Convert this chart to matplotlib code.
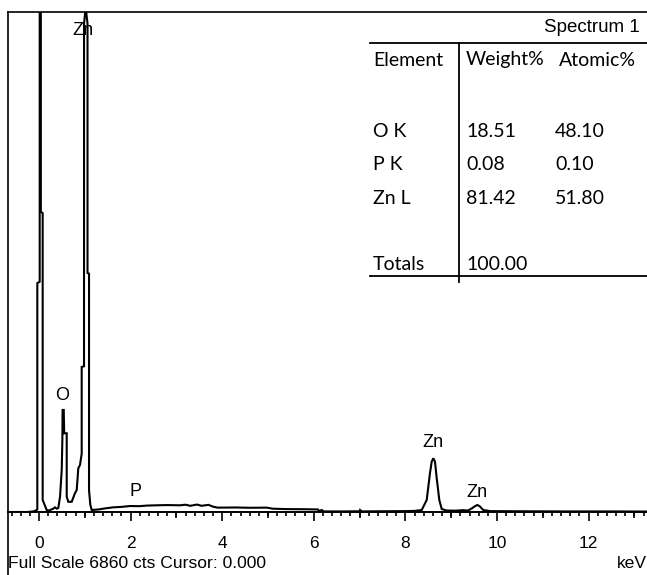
import matplotlib
matplotlib.use("Agg")
import matplotlib.pyplot as plt
from matplotlib.lines import Line2D

# ---------------- data ----------------
energy_kev = [-0.68, -0.25, -0.12, -0.05,
              -0.037, -0.037, 0.015, 0.015, 0.04, 0.04, 0.08, 0.08, 0.168,
              0.22, 0.277, 0.31, 0.349, 0.39, 0.421,
              0.459, 0.496, 0.51, 0.515, 0.54, 0.55, 0.605, 0.605, 0.64, 0.714,
              0.786, 0.823, 0.858, 0.895, 0.932, 0.932, 0.983, 0.983, 1.02,
              1.059, 1.059, 1.092, 1.092, 1.12, 1.151,
              1.3, 1.45, 1.62, 1.8, 1.99, 2.2, 2.35, 2.57, 2.8, 3.08, 3.2, 3.3,
              3.45, 3.55, 3.7, 3.8, 3.9, 4.3, 4.6, 4.97, 5.11, 5.4, 5.8, 6.09,
              6.12, 6.17, 6.22, 6.6, 7.0, 7.01, 7.05, 7.5, 8.0, 8.2,
              8.356, 8.465, 8.537, 8.574, 8.609, 8.646, 8.683, 8.74, 8.793,
              8.9, 9.1, 9.25, 9.37, 9.45, 9.52, 9.57, 9.62, 9.70, 9.85,
              10.5, 11.5, 12.5, 13.3]
counts = [0, 0, 8, 27,
          40, 3140, 3160, 9500, 9500, 4120, 4100, 165, 27,
          20, 37, 45, 64, 45, 55,
          210, 575, 1000, 1400, 1400, 1080, 1080, 210, 140, 140,
          260, 300, 600, 645, 800, 1990, 2000, 6700, 6920,
          6700, 3280, 3270, 300, 100, 27,
          35, 50, 64, 70, 82, 80, 88, 92, 95, 92, 100, 85,
          102, 85, 98, 73, 60, 62, 58, 60, 45, 40, 38, 35,
          10, 28, 8, 8, 10, 28, 8, 10, 12, 15,
          27, 165, 535, 690, 737, 690, 466, 165, 41,
          20, 18, 25, 20, 50, 80, 96, 80, 27, 12,
          10, 8, 8, 6]

full_scale = 6860
x_ticks = [0, 2, 4, 6, 8, 10, 12]

peak_labels = ["Zn", "O", "P", "Zn", "Zn"]
peak_label_kev = [0.96, 0.50, 2.10, 8.60, 9.56]
peak_label_cts = [6613, 1605, 288, 947, 274]

elements = ["O K", "P K", "Zn L"]
weight_pct = [18.51, 0.08, 81.42]
atomic_pct = [48.10, 0.10, 51.80]
total_weight = 100.00

# ---------------- figure ----------------
W, H = 647, 575
fig = plt.figure(figsize=(W / 100, H / 100), dpi=100)

def fx(px):
    return px / W

def fy(py):
    return 1 - py / H

ax_left, ax_top, ax_bottom = 8, 12, 512
ax = fig.add_axes([fx(ax_left), fy(ax_bottom), 1 - fx(ax_left), (ax_bottom - ax_top) / H])

ax.plot(energy_kev, counts, color="black", lw=1.5, solid_joinstyle="miter")
ax.set_xlim(-0.677, 13.275)
ax.set_ylim(0, full_scale)

ax.spines["right"].set_visible(False)
ax.spines["left"].set_visible(False)
ax.spines["top"].set_linewidth(1.2)
ax.spines["bottom"].set_linewidth(1.4)
ax.set_yticks([])

tickfont = "Liberation Sans"
ax.set_xticks(x_ticks)
ax.set_xticklabels([str(t) for t in x_ticks], fontsize=12.5, family=tickfont)
ax.set_xticks([i * 0.2 for i in range(-3, 67)], minor=True)
ax.tick_params(axis="x", which="major", direction="out", length=6.5, width=1.2, pad=11)
ax.tick_params(axis="x", which="minor", direction="out", length=2.9, width=1.2)

sec = ax.secondary_xaxis("bottom")
sec.set_xticks([1, 3, 5, 7, 9, 11, 13])
sec.tick_params(axis="x", direction="out", length=4.3, width=1.2, labelbottom=False)
sec.spines["bottom"].set_visible(False)

# left border through whole height
fig.add_artist(Line2D([fx(ax_left), fx(ax_left)], [0, fy(ax_top)],
                      transform=fig.transFigure, color="black", lw=1.2))

# peak labels
for lab, xk, yc in zip(peak_labels, peak_label_kev, peak_label_cts):
    ax.text(xk, yc, lab, ha="center", va="center", fontsize=13, family=tickfont)

# footer texts
fig.text(fx(8), fy(563), "Full Scale 6860 cts Cursor: 0.000", ha="left", va="center",
         fontsize=12.6, family=tickfont)
fig.text(fx(647), fy(563), "keV", ha="right", va="center", fontsize=12.6, family=tickfont)

# ---------------- table ----------------
tfont = "Lato"
tsize = 14
fig.text(fx(640), fy(27), "Spectrum 1", ha="right", va="center", fontsize=13.5, family=tickfont)
fig.add_artist(Line2D([fx(370), 1], [fy(42.7), fy(42.7)], transform=fig.transFigure,
                      color="black", lw=1.3))
fig.add_artist(Line2D([fx(370), 1], [fy(276), fy(276)], transform=fig.transFigure,
                      color="black", lw=1.3))
fig.add_artist(Line2D([fx(458.5), fx(458.5)], [fy(42.7), fy(282)], transform=fig.transFigure,
                      color="black", lw=1.3))

col_x = [373, 466, 559]
fig.text(fx(col_x[0]), fy(60), "Element", ha="left", va="center", fontsize=tsize, family=tfont)
fig.text(fx(col_x[1]), fy(60), "Weight%", ha="left", va="center", fontsize=tsize, family=tfont)
fig.text(fx(col_x[2]), fy(60), "Atomic%", ha="left", va="center", fontsize=tsize, family=tfont)

row_y = [131.7, 165, 198.3]
for el, w, a, ry in zip(elements, weight_pct, atomic_pct, row_y):
    fig.text(fx(col_x[0]), fy(ry), el, ha="left", va="center", fontsize=tsize, family=tfont)
    fig.text(fx(col_x[1]), fy(ry), f"{w:.2f}", ha="left", va="center", fontsize=tsize, family=tfont)
    fig.text(fx(col_x[2] - 4), fy(ry), f"{a:.2f}", ha="left", va="center", fontsize=tsize, family=tfont)

fig.text(fx(col_x[0]), fy(265), "Totals", ha="left", va="center", fontsize=tsize, family=tfont)
fig.text(fx(col_x[1]), fy(265), f"{total_weight:.2f}", ha="left", va="center", fontsize=tsize, family=tfont)

fig.savefig("out.png", dpi=100)
